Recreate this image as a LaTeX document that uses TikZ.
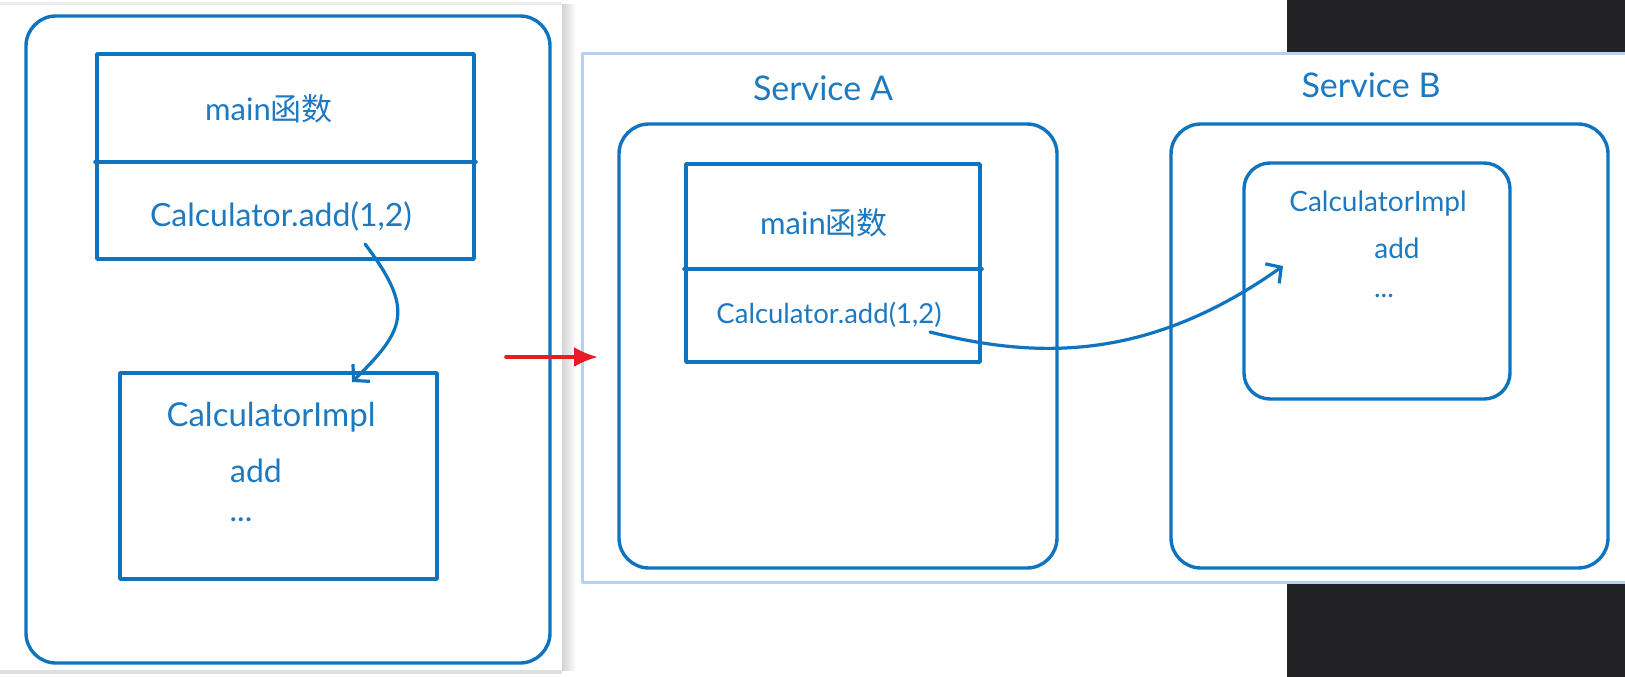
\documentclass[tikz,border=0pt]{standalone}
\usepackage{fontspec}
\setmainfont{Lato}
\newfontfamily\cjk{Noto Sans CJK SC}
\usetikzlibrary{arrows.meta}
\definecolor{lineblue}{RGB}{14,116,192}
\definecolor{textblue}{RGB}{30,122,192}
\definecolor{arrowred}{RGB}{232,28,36}
\definecolor{darkbg}{RGB}{34,34,36}
\definecolor{glowblue}{RGB}{180,210,245}
\begin{document}
\begin{tikzpicture}[x=1pt,y=-1pt,line join=round,line cap=round,
  frame/.style={draw=lineblue,line width=3.4pt,rounded corners=#1,inner sep=0pt},
  frame/.default=30pt,
  box/.style={draw=lineblue,line width=3.8pt,inner sep=0pt},
  lbl/.style={text=textblue,font=\fontsize{#1}{#1}\selectfont,inner sep=0pt,anchor=base},
  lbl/.default=32,
  call/.style={draw=lineblue,line width=3.2pt,-{Straight Barb[length=11pt,width=24pt,line width=3.2pt]}}]
\useasboundingbox (0,0) rectangle (1625,677);
\fill[white] (0,0) rectangle (1625,677);
\fill[darkbg] (1287,0) rectangle (1625,677);
\shade[left color=gray!35,right color=white] (562,5) rectangle (576,670);
\fill[gray!25] (0,670) rectangle (562,674);
\fill[gray!15] (0,2) rectangle (562,5);
\fill[white] (0,5) rectangle (562,670);
\draw[glowblue,line width=3pt,fill=white] (582,54) rectangle (1627,582);
\path (288,339.5) node[frame,minimum width=524pt,minimum height=647pt] (leftOuter) {}
  (285.5,156.5) node[box,minimum width=377pt,minimum height=205pt] (mainL) {}
  (278.5,476) node[box,minimum width=317pt,minimum height=206pt] (implL) {}
  (838,346) node[frame,minimum width=438pt,minimum height=444pt] (svcA) {}
  (833,263) node[box,minimum width=294pt,minimum height=198pt] (mainA) {}
  (1389.5,346) node[frame,minimum width=437pt,minimum height=444pt] (svcB) {}
  (1377,281) node[frame=26pt,minimum width=266pt,minimum height=236pt] (implB) {};
\draw[lineblue,line width=3.8pt] (mainL.west |- 0,162) -- (mainL.east |- 0,162);
\draw[lineblue,line width=3.8pt] (mainA.west |- 0,269) -- (mainA.east |- 0,269);
\node[lbl=31] (mainTxtL) at (269,121) {main{\cjk 函数}};
\node[lbl] (callTxtL) at (281,226) {Calculator.add(1,2)};
\node[lbl=33] (implTxtL) at (271,426) {CalculatorImpl};
\node[lbl] (addTxtL) at (256,482) {add};
\node[lbl] (dotTxtL) at (241,521) {...};
\node[lbl=34] (svcTxtA) at (823,100) {Service A};
\node[lbl=31] (mainTxtA) at (824,234) {main{\cjk 函数}};
\node[lbl=27.5] (callTxtA) at (829,323) {Calculator.add(1,2)};
\node[lbl=34] (svcTxtB) at (1371,97) {Service B};
\node[lbl=28] (implTxtB) at (1378,211) {CalculatorImpl};
\node[lbl=28] (addTxtB) at (1397,258) {add};
\node[lbl=28] (dotTxtB) at (1384,297) {...};
\path (365,244) coordinate (fromL) (352,382) coordinate (toL)
  (930,332) coordinate (fromA) (1283,266) coordinate (toB)
  (506,357) coordinate (redS) (598,357) coordinate (redE);
\draw[call] (fromL) .. controls (415,310) and (405,330) .. (toL);
\draw[call] (fromA) .. controls (1040,360) and (1150,360) .. (toB);
\draw[arrowred,line width=3.6pt,-{Latex[length=24pt,width=20pt]}] (redS) -- (redE);
\end{tikzpicture}
\end{document}
